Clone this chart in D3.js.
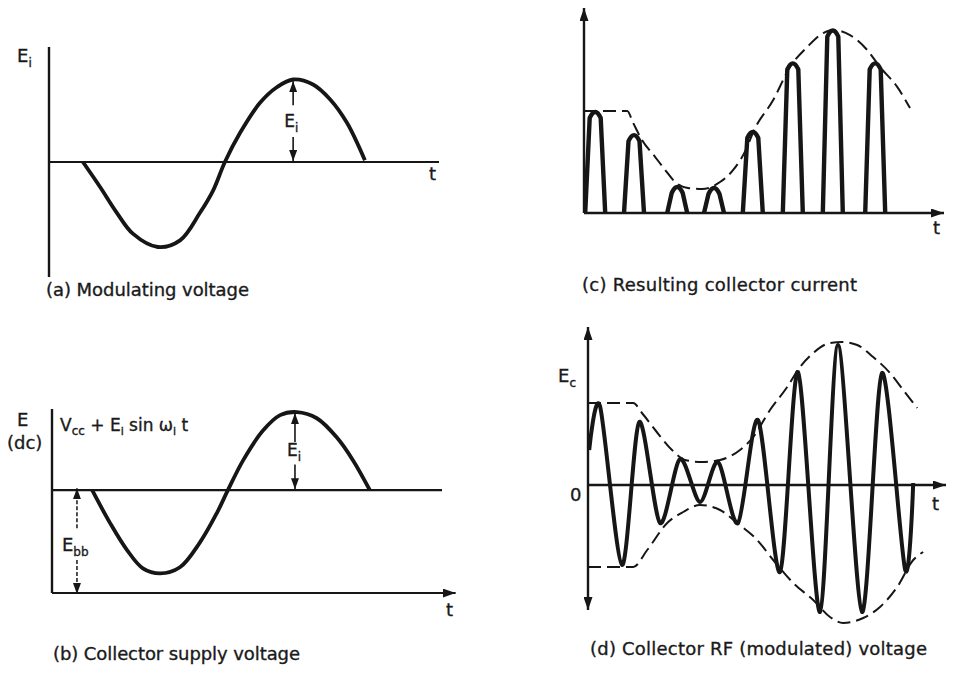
<!DOCTYPE html>
<html>
<head>
<meta charset="utf-8">
<script src="https://cdn.jsdelivr.net/npm/d3@7"></script>
<style>
  body { margin: 0; background: #fff; }
  svg text { font-family: "DejaVu Sans", sans-serif; fill: #1a1a1a; stroke: #1a1a1a; stroke-width: 0.35; }
</style>
</head>
<body>
<div id="chart-area"></div>
<script>
/*
*    four panels of collector modulation
*/

// (a) modulating voltage  [t, Ei]
var modVoltage = [[0.87,0],[1.31,-0.3],[1.74,-0.61],[2.15,-0.86],[2.79,-1.02],[3.36,-0.94],
    [3.87,-0.61],[4.21,-0.34],[4.51,0],[4.9,0.35],[5.41,0.71],[5.85,0.9],[6.26,0.99],
    [6.77,0.93],[7.21,0.75],[7.64,0.47],[8.1,0.02]];

// (b) collector supply voltage  [t, E (dc)], Ebb = 1
var supplyVoltage = [[1.03,1.0],[1.49,0.68],[1.92,0.42],[2.33,0.24],[2.77,0.19],[3.28,0.25],
    [3.79,0.49],[4.23,0.78],[4.51,1.0],[4.9,1.29],[5.41,1.58],[5.85,1.73],[6.28,1.76],
    [6.79,1.7],[7.31,1.51],[7.72,1.29],[8.15,1.0]];
var ebb = 1.0;

// (c) collector current pulses  [t, peak]
var pulses = [[0.28,4.93],[1.25,3.8],[2.33,1.27],[3.25,1.22],[4.22,3.95],[5.22,7.3],[6.22,8.9],[7.28,7.3]];
var currentEnvelope = [[0,4.98],[1.08,4.98],[1.23,4.39],[1.45,3.56],[1.78,2.73],[2.03,2.1],[2.28,1.51],
    [2.6,1.22],[2.95,1.17],[3.4,1.51],[3.73,2.1],[4.08,3.22],[4.23,3.95],[4.73,5.51],[5.15,7.12],
    [5.58,8.1],[5.98,8.78],[6.23,8.93],[6.65,8.68],[7.08,7.95],[7.4,7.12],[7.83,6.15],[8.15,5.12]];

// (d) collector RF voltage  [t, Ec]
var rfVoltage = [[0.03,1.75],[0.3,3.95],[0.85,-4.0],[1.28,3.15],[1.8,-1.9],[2.3,1.3],[2.8,-0.85],
    [3.25,1.15],[3.75,-1.9],[4.25,3.25],[4.8,-4.35],[5.25,5.65],[5.8,-6.35],[6.25,7.0],
    [6.85,-6.35],[7.35,5.6],[7.93,-4.25],[8.13,0.1]];
var upperEnvelope = [[0,4.1],[1.13,4.1],[1.35,3.6],[1.68,2.75],[2.1,1.75],[2.43,1.25],[2.85,1.15],
    [3.3,1.25],[3.8,1.75],[4.13,2.4],[4.55,3.75],[4.98,4.9],[5.3,5.9],[5.63,6.6],[6.05,7.1],
    [6.35,7.15],[6.73,7.0],[7.13,6.4],[7.55,5.6],[7.88,4.75],[8.23,3.85]];
var lowerEnvelope = [[0,-4.1],[1.13,-4.1],[1.48,-3.25],[1.98,-1.9],[2.38,-1.35],[2.8,-1.0],[3.3,-1.25],
    [3.73,-1.9],[4.23,-2.75],[4.63,-3.75],[5.13,-4.9],[5.63,-5.75],[6.05,-6.6],[6.38,-6.9],
    [6.88,-6.65],[7.3,-6.1],[7.73,-5.1],[8.13,-3.75],[8.38,-3.35]];

var captions = ["(a) Modulating voltage", "(b) Collector supply voltage",
    "(c) Resulting collector current", "(d) Collector RF (modulated) voltage"];

var ink = "#161616";

var svg = d3.select("#chart-area")
  .append("svg")
    .attr("width", 954)
    .attr("height", 678);

svg.append("rect").attr("width", 954).attr("height", 678).attr("fill", "#fff");

var defs = svg.append("defs");
function marker(id, w, h) {
    defs.append("marker")
        .attr("id", id)
        .attr("viewBox", "0 0 " + w + " " + h)
        .attr("refX", w).attr("refY", h / 2)
        .attr("markerWidth", w).attr("markerHeight", h)
        .attr("markerUnits", "userSpaceOnUse")
        .attr("orient", "auto-start-reverse")
      .append("path")
        .attr("d", "M0,0L" + w + "," + (h / 2) + "L0," + h + "Z")
        .attr("fill", ink);
}
marker("big", 13, 9);
marker("small", 11, 8);

function hline(x1, x2, y, w, mk) {
    var l = svg.append("line").attr("x1", x1).attr("x2", x2).attr("y1", y).attr("y2", y)
        .attr("stroke", ink).attr("stroke-width", w);
    if (mk) l.attr("marker-end", "url(#" + mk + ")");
    return l;
}
function vline(x, y1, y2, w, mk) {
    var l = svg.append("line").attr("x1", x).attr("x2", x).attr("y1", y1).attr("y2", y2)
        .attr("stroke", ink).attr("stroke-width", w);
    if (mk) l.attr("marker-end", "url(#" + mk + ")");
    return l;
}
function label(x, y, main, sub, size) {
    var t = svg.append("text").attr("x", x).attr("y", y).attr("font-size", size || 18).text(main);
    if (sub) t.append("tspan").attr("font-size", 12).attr("dy", 5).text(sub);
    return t;
}
var smooth = d3.curveCatmullRom.alpha(0.5);

// ---------- (a) ----------
var xA = d3.scaleLinear().domain([0, 10]).range([49, 439]);
var yA = d3.scaleLinear().domain([-1.38, 1.38]).range([277, 47]);

vline(xA(0), yA(1.38), yA(-1.38), 2.4);
hline(xA(0), xA(10), yA(0), 2.2);

svg.append("path")
    .attr("d", d3.line().x(d => xA(d[0])).y(d => yA(d[1])).curve(smooth)(modVoltage))
    .attr("fill", "none").attr("stroke", ink).attr("stroke-width", 3.8);

vline(xA(6.26), yA(0.68), yA(0.97), 1.6, "small");
vline(xA(6.26), yA(0.3), yA(0) - 1, 1.6, "small");
label(xA(6.26) - 9, yA(0.42), "E", "i", 17);
label(17, 62, "E", "i");
label(429, 180, "t");
svg.append("text").attr("x", 46).attr("y", 296).attr("font-size", 18)
    .attr("textLength", 203).text(captions[0]);

// ---------- (b) ----------
var xB = d3.scaleLinear().domain([0, 10]).range([52, 442]);
var yB = d3.scaleLinear().domain([0, 1.79]).range([593, 409]);

vline(xB(0), yB(1.79), yB(0), 2.4);
hline(xB(0), xB(10.35), yB(0), 2.2, "big");
hline(xB(0), xB(10), yB(ebb), 2.2);

svg.append("path")
    .attr("d", d3.line().x(d => xB(d[0])).y(d => yB(d[1])).curve(smooth)(supplyVoltage))
    .attr("fill", "none").attr("stroke", ink).attr("stroke-width", 3.8);

vline(xB(6.23), yB(1.47), yB(1.75), 1.6, "small");
vline(xB(6.23), yB(1.25), yB(ebb) - 1, 1.6, "small");
label(xB(6.23) - 8, yB(1.33), "E", "i", 17);

vline(xB(0.64), yB(0.63), yB(ebb) - 2, 1.5, "small").attr("stroke-dasharray", "4,2");
vline(xB(0.64), yB(0.32), yB(0) + 1, 1.5, "small").attr("stroke-dasharray", "4,2");
label(xB(0.64) - 15, yB(0.41), "E", "bb", 18);

label(17, 426, "E");
label(7, 449, "(dc)");
var formula = svg.append("text").attr("x", 60).attr("y", 431).attr("font-size", 17);
formula.append("tspan").text("V");
formula.append("tspan").attr("font-size", 12).attr("dy", 4).text("cc");
formula.append("tspan").attr("dy", -4).text(" + E");
formula.append("tspan").attr("font-size", 11).attr("dy", 4).text("i");
formula.append("tspan").attr("dy", -4).text(" sin \u03c9");
formula.append("tspan").attr("font-size", 11).attr("dy", 4).text("i");
formula.append("tspan").attr("dy", -4).text(" t");
label(446, 616, "t");
svg.append("text").attr("x", 53).attr("y", 660).attr("font-size", 18)
    .attr("textLength", 247).text(captions[1]);

// ---------- (c) ----------
var xC = d3.scaleLinear().domain([0, 9]).range([584, 944]);
var yC = d3.scaleLinear().domain([0, 10]).range([213, 8]);

vline(xC(0), yC(0), yC(10), 2.4, "big");
hline(xC(0), xC(9), yC(0), 2.6, "big");

svg.append("path")
    .attr("d", d3.line().x(d => xC(d[0])).y(d => yC(d[1])).curve(d3.curveMonotoneX)(currentEnvelope))
    .attr("fill", "none").attr("stroke", ink).attr("stroke-width", 2)
    .attr("stroke-dasharray", "13,6");

svg.selectAll(".pulse").data(pulses).enter()
  .append("path")
    .attr("class", "pulse")
    .attr("d", function(d) {
        var cx = xC(d[0]), b = yC(0), top = yC(d[1]);
        var p = d3.path();
        p.moveTo(cx - 10, b);
        p.lineTo(cx - 5.5, top + 6);
        p.quadraticCurveTo(cx, top - 6, cx + 5.5, top + 6);
        p.lineTo(cx + 10, b);
        return p.toString();
    })
    .attr("fill", "none").attr("stroke", ink).attr("stroke-width", 4.4)
    .attr("stroke-linejoin", "round");

label(933, 234, "t");
svg.append("text").attr("x", 582).attr("y", 291).attr("font-size", 18)
    .attr("textLength", 275).text(captions[2]);

// ---------- (d) ----------
var xD = d3.scaleLinear().domain([0, 9]).range([588, 948]);
var yD = d3.scaleLinear().domain([-6.25, 7.9]).range([610, 327]);

vline(xD(0), yD(-6.25), yD(7.9), 2.4, "big").attr("marker-start", "url(#big)");
hline(xD(0), xD(8.95), yD(0), 2.4, "big");

[upperEnvelope, lowerEnvelope].forEach(function(env) {
    svg.append("path")
        .attr("d", d3.line().x(d => xD(d[0])).y(d => yD(d[1])).curve(d3.curveMonotoneX)(env))
        .attr("fill", "none").attr("stroke", ink).attr("stroke-width", 2)
        .attr("stroke-dasharray", "13,6");
});

svg.append("path")
    .attr("d", d3.line().x(d => xD(d[0])).y(d => yD(d[1])).curve(d3.curveCardinal.tension(0.15))(rfVoltage))
    .attr("fill", "none").attr("stroke", ink).attr("stroke-width", 4)
    .attr("stroke-linejoin", "round");

label(558, 382, "E", "c");
label(570, 501, "0");
label(932, 510, "t");
svg.append("text").attr("x", 590).attr("y", 655).attr("font-size", 18)
    .attr("textLength", 337).text(captions[3]);
</script>
</body>
</html>
